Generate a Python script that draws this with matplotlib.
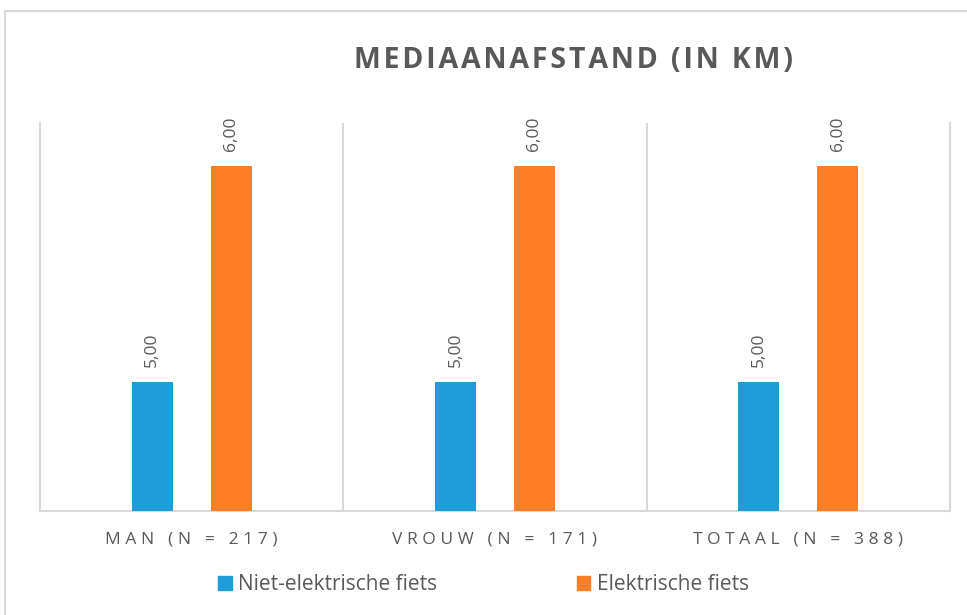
import matplotlib
matplotlib.use("Agg")
import matplotlib.pyplot as plt
import numpy as np
from matplotlib.patches import Rectangle, Patch

categories = ["MAN (N = 217)", "VROUW (N = 171)", "TOTAAL (N = 388)"]
series_names = ["Niet-elektrische fiets", "Elektrische fiets"]
niet_elektrisch = [5.00, 5.00, 5.00]
elektrisch = [6.00, 6.00, 6.00]
colors = ["#1F9DD9", "#FE7F27"]
title = "MEDIAANAFSTAND (IN KM)"

def spaced(s, sep=" "):
    return sep.join(list(s))

plt.rcParams['font.family'] = ['Open Sans', 'DejaVu Sans']
gray = "#595959"
grid = "#D9D9D9"

fig = plt.figure(figsize=(9.67, 6.15), dpi=100)
fig.patch.set_facecolor("white")
fig.patches.append(Rectangle((5/967, -0.1), 1.2, 1 - 11/615 + 0.1, transform=fig.transFigure,
                             fill=False, edgecolor=grid, linewidth=1.5, zorder=0))

ax = fig.add_axes([40/967, 1 - 511/615, 910/967, (511 - 123)/615])
x = np.arange(len(categories))
off = 0.13
w = 0.135
b1 = ax.bar(x - off, niet_elektrisch, w, color=colors[0], zorder=3)
b2 = ax.bar(x + off, elektrisch, w, color=colors[1], zorder=3)

ax.set_xlim(-0.5, len(categories) - 0.5)
ax.set_ylim(4.4, 6.2)
ax.set_yticks([])
ax.set_xticks(x)
sep = "\u2009\u200a"
ax.set_xticklabels([spaced(c, sep) for c in categories], color=gray, fontsize=12.5)
ax.tick_params(axis='x', length=0, pad=15)
for xv in np.arange(0.5, len(categories) - 0.5, 1.0):
    ax.axvline(xv, color=grid, linewidth=1.5, zorder=1)
for s in ["left", "right", "bottom"]:
    ax.spines[s].set_color(grid)
    ax.spines[s].set_linewidth(1.5)
ax.spines["top"].set_visible(False)

for bars, vals in ((b1, niet_elektrisch), (b2, elektrisch)):
    for r, v in zip(bars, vals):
        ax.annotate(f"{v:.2f}".replace(".", ","), (r.get_x() + r.get_width() / 2, v),
                    xytext=(0, 15), textcoords="offset pixels",
                    rotation=90, ha="center", va="bottom", color=gray, fontsize=12.5)

fig.text(574/967, 1 - 61/615, spaced(title, "\u200a"), ha="center", va="center", fontsize=20.5,
         fontweight="bold", color=gray)

handles = [Patch(color=colors[0]), Patch(color=colors[1])]
fig.legend(handles, series_names, loc="center", bbox_to_anchor=(0.5, 1 - 585/615),
           ncol=2, frameon=False, fontsize=15, labelcolor=gray,
           handlelength=0.65, handleheight=0.65, handletextpad=0.3, columnspacing=6.7)

fig.savefig("out.png", dpi=100, facecolor="white")
